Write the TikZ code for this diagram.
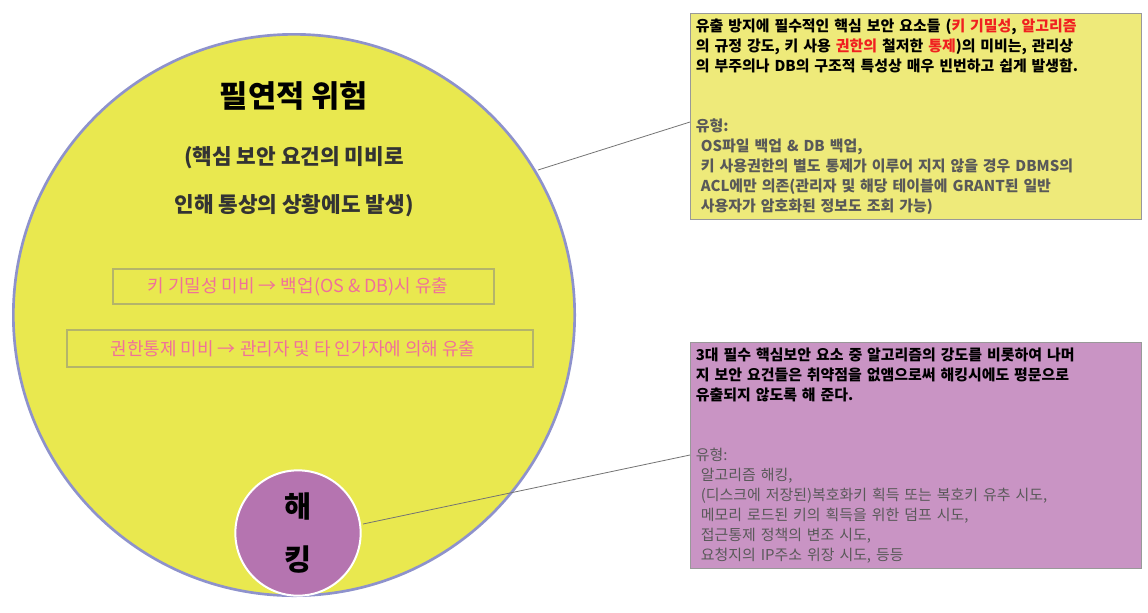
\documentclass[tikz,border=0pt]{standalone}
\usepackage{fontspec}
\setmainfont{Noto Sans CJK KR}
\usepackage{xcolor}
\definecolor{riskyellow}{HTML}{E9E84F}
\definecolor{ringblue}{HTML}{8E92CC}
\definecolor{hackpurple}{HTML}{B574B0}
\definecolor{noteyellow}{HTML}{EEEA7A}
\definecolor{notepurple}{HTML}{C994C4}
\definecolor{leakpink}{HTML}{F0709A}
\definecolor{leakframe}{HTML}{B4B46A}
\definecolor{typegray}{HTML}{595959}
\definecolor{keyred}{HTML}{F02020}

\begin{document}
\begin{tikzpicture}[x=0.75pt,y=-0.75pt,
    leakbox/.style={text=leakpink,font=\fontsize{13.5}{16}\selectfont,anchor=center,inner sep=0pt},
    notebox/.style={draw=black!40,line width=0.8pt,anchor=north west,inner sep=4pt,align=left,text width=330pt,
        font=\fontsize{11.2}{15}\selectfont\bfseries}]
        \useasboundingbox (0,0) rectangle (1148,612);
        \fill[white] (0,0) rectangle (1148,612);
        % big circle
        \draw[fill=riskyellow,draw=ringblue,line width=2pt] (294,315) circle[radius=210.5pt];
        \node (risk) at (294,96) {\fontsize{23}{26}\selectfont\bfseries 필연적 위험};
        \node[text=black!80] (why1) at (294,158) {\fontsize{16}{18}\selectfont\bfseries (핵심 보안 요건의 미비로};
        \node[text=black!80] (why2) at (294,206) {\fontsize{16}{18}\selectfont\bfseries 인해 통상의 상황에도 발생)};
        % leak boxes
        \draw[draw=leakframe,line width=0.8pt] (113,269) rectangle (494,304);
        \node[leakbox] (leakkey) at (298,286.5) {키 기밀성 미비 → 백업(OS \& DB)시 유출};
        \draw[draw=leakframe,line width=0.8pt] (67,330) rectangle (533,367);
        \node[leakbox] (leakacl) at (293,348.5) {권한통제 미비 → 관리자 및 타 인가자에 의해 유출};
        % hacking circle
        \draw[fill=hackpurple,draw=white,line width=1.5pt] (298,533) circle[radius=47pt];
        \node[align=center,font=\fontsize{22}{40}\selectfont\bfseries] (hack) at (298,533) {해\\킹};
        % notes
        \node[notebox,fill=noteyellow] (noterisk) at (690,13) {%
            유출 방지에 필수적인 핵심 보안 요소들 (\textcolor{keyred}{키 기밀성}, \textcolor{keyred}{알고리즘}\\
            의 규정 강도, 키 사용 \textcolor{keyred}{권한의} 철저한 \textcolor{keyred}{통제})의 미비는, 관리상\\
            의 부주의나 DB의 구조적 특성상 매우 빈번하고 쉽게 발생함.\\[30pt]
            {\color{typegray}유형:\\
            \ OS파일 백업 \& DB 백업,\\
            \ 키 사용권한의 별도 통제가 이루어 지지 않을 경우 DBMS의\\
            \ ACL에만 의존(관리자 및 해당 테이블에 GRANT된 일반\\
            \ 사용자가 암호화된 정보도 조회 가능)}\\[8pt]};
        \node[notebox,fill=notepurple] (notehack) at (690,342) {%
            3대 필수 핵심보안 요소 중 알고리즘의 강도를 비롯하여 나머\\
            지 보안 요건들은 취약점을 없앰으로써 해킹시에도 평문으로\\
            유출되지 않도록 해 준다.\\[30pt]
            {\color{typegray}\mdseries 유형:\\
            \ 알고리즘 해킹,\\
            \ (디스크에 저장된)복호화키 획득 또는 복호키 유추 시도,\\
            \ 메모리 로드된 키의 획득을 위한 덤프 시도,\\
            \ 접근통제 정책의 변조 시도,\\
            \ 요청지의 IP주소 위장 시도, 등등}\\[6pt]};
        % connectors
        \draw[black!55,line width=0.6pt] (538,170) -- (noterisk.west |- 0,122);
        \draw[black!55,line width=0.6pt] (363,524) -- (notehack.west |- 0,455);
\end{tikzpicture}
\end{document}
